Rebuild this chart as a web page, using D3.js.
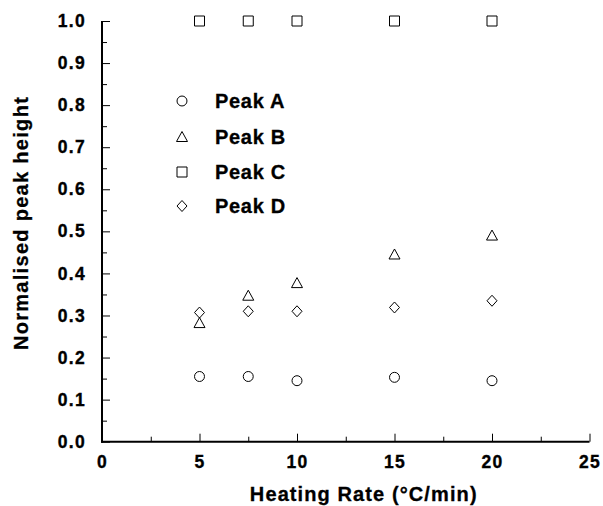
<!DOCTYPE html>
<html>
<head>
<meta charset="utf-8">
<script src="https://cdn.jsdelivr.net/npm/d3@7"></script>
<style>
  html, body { margin: 0; padding: 0; background: #fff; }
  svg { display: block; }
  .tick-label { font-family: "Liberation Sans", Arial, sans-serif; font-weight: bold; font-size: 17.5px; letter-spacing: 1.3px; fill: #000; stroke: #000; stroke-width: 0.35px; }
  .title { font-family: "Liberation Sans", Arial, sans-serif; font-weight: bold; font-size: 20px; fill: #000; stroke: #000; stroke-width: 0.3px; }
</style>
</head>
<body>
<svg id="chart" width="603" height="506"></svg>
<script>
// Heating rates (°C/min)
const heatingRates = [5, 7.5, 10, 15, 20];

// Normalised peak heights per peak
const peakA = [0.155, 0.155, 0.145, 0.153, 0.145];
const peakB = [0.282, 0.347, 0.377, 0.445, 0.490];
const peakC = [1.0, 1.0, 1.0, 1.0, 1.0];
const peakD = [0.307, 0.310, 0.310, 0.319, 0.335];

const seriesNames = ["Peak A", "Peak B", "Peak C", "Peak D"];
const seriesValues = [peakA, peakB, peakC, peakD];
const seriesSymbols = ["circle", "triangle", "square", "diamond"];

const xTicks = [0, 5, 10, 15, 20, 25];
const yTicks = [0, 0.1, 0.2, 0.3, 0.4, 0.5, 0.6, 0.7, 0.8, 0.9, 1.0];

const svg = d3.select("#chart");
const plotLeft = 102, plotRight = 589.5, plotTop = 21, plotBottom = 441.7;

const x = d3.scaleLinear().domain([0, 25]).range([plotLeft, plotRight]);
const y = d3.scaleLinear().domain([0, 1]).range([plotBottom, plotTop]);

// Minor ticks
svg.append("g")
  .attr("transform", `translate(${plotLeft},0)`)
  .call(d3.axisLeft(y).tickValues(d3.range(0.05, 1, 0.1)).tickSize(-5).tickFormat(""))
  .call(g => g.select(".domain").remove())
  .call(g => g.selectAll("line").attr("stroke-width", 1));
svg.append("g")
  .attr("transform", `translate(0,${plotBottom})`)
  .call(d3.axisBottom(x).tickValues([2.5, 7.5, 12.5, 17.5, 22.5]).tickSize(-5).tickFormat(""))
  .call(g => g.select(".domain").remove())
  .call(g => g.selectAll("line").attr("stroke-width", 1));

// Major axes
const yAxis = svg.append("g")
  .attr("transform", `translate(${plotLeft},0)`)
  .call(d3.axisLeft(y).tickValues(yTicks).tickSize(-8).tickPadding(16).tickFormat(d3.format(".1f")));
yAxis.select(".domain").remove();
yAxis.selectAll("line").attr("stroke-width", 1);
yAxis.selectAll("text").attr("class", "tick-label").attr("font-family", null).attr("font-size", null);

const xAxis = svg.append("g")
  .attr("transform", `translate(0,${plotBottom})`)
  .call(d3.axisBottom(x).tickValues(xTicks).tickSize(-8).tickPadding(14).tickFormat(d3.format("d")));
xAxis.select(".domain").remove();
xAxis.selectAll("line").attr("stroke-width", 1);
xAxis.selectAll("text").attr("class", "tick-label").attr("font-family", null).attr("font-size", null);

// Axis lines
svg.append("line").attr("x1", plotLeft).attr("x2", plotLeft).attr("y1", plotTop).attr("y2", plotBottom + 1)
  .attr("stroke", "#000").attr("stroke-width", 2);
svg.append("line").attr("x1", plotLeft - 1).attr("x2", plotRight).attr("y1", plotBottom).attr("y2", plotBottom)
  .attr("stroke", "#000").attr("stroke-width", 2);

// Marker shapes
function symbolPath(kind) {
  if (kind === "circle") return d3.symbol(d3.symbolCircle, 78)();
  if (kind === "square") return "M-5,-5H5V5H-5Z";
  if (kind === "triangle") return "M0,-5.5L5.5,4.5L-5.5,4.5Z";
  return "M0,-5.5L5,0L0,5.5L-5,0Z";
}

seriesValues.forEach((vals, i) => {
  svg.append("g").selectAll("path")
    .data(vals.map((v, j) => [heatingRates[j], v]))
    .join("path")
    .attr("d", symbolPath(seriesSymbols[i]))
    .attr("transform", d => `translate(${x(d[0])},${y(d[1])})`)
    .attr("fill", "none").attr("stroke", "#000").attr("stroke-width", 1);
});

// Legend
const legendY = [101, 137, 172, 206];
seriesNames.forEach((name, i) => {
  svg.append("path").attr("d", symbolPath(seriesSymbols[i]))
    .attr("transform", `translate(182,${legendY[i]})`)
    .attr("fill", "none").attr("stroke", "#000").attr("stroke-width", 1);
  svg.append("text").attr("class", "title").attr("x", 215).attr("y", legendY[i]).attr("dy", "0.36em")
    .style("letter-spacing", "0.7px").text(name);
});

// Axis titles
svg.append("text").attr("class", "title").attr("x", (plotLeft + plotRight) / 2 + 18).attr("y", 501)
  .attr("text-anchor", "middle").style("letter-spacing", "1.1px").text("Heating Rate (°C/min)");
svg.append("text").attr("class", "title")
  .attr("transform", `translate(28,${223}) rotate(-90)`)
  .attr("text-anchor", "middle").style("letter-spacing", "1.3px").text("Normalised peak height");
</script>
</body>
</html>
